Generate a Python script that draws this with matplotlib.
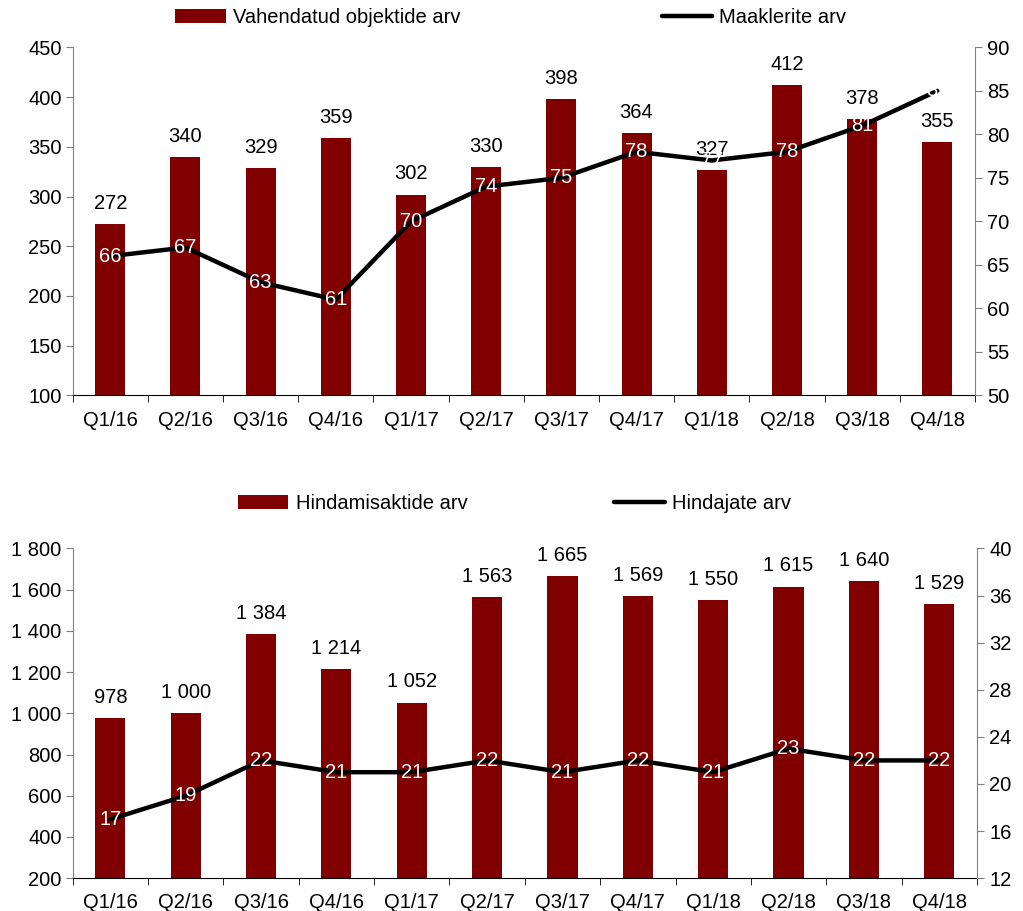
import numpy as np
import matplotlib.pyplot as plt

plt.rcParams['font.family'] = ['Liberation Sans', 'DejaVu Sans']
plt.rcParams['font.size'] = 14.5

quarters = ['Q1/16', 'Q2/16', 'Q3/16', 'Q4/16', 'Q1/17', 'Q2/17',
            'Q3/17', 'Q4/17', 'Q1/18', 'Q2/18', 'Q3/18', 'Q4/18']

# top panel
deals = [272, 340, 329, 359, 302, 330, 398, 364, 327, 412, 378, 355]
brokers = [66, 67, 63, 61, 70, 74, 75, 78, 77, 78, 81, 85]

# bottom panel
appraisals = [978, 1000, 1384, 1214, 1052, 1563, 1665, 1569, 1550, 1615, 1640, 1529]
appraisers = [17, 19, 22, 21, 21, 22, 21, 22, 21, 23, 22, 22]

BAR = '#800000'
GREY = '#808080'


def fmt(v):
    return '{:,}'.format(int(v)).replace(',', ' ')


def panel(ax, bars, line, ylim, yticks, ylim2, yticks2, bar_name, line_name,
          leg_x, leg_y, colsp):
    x = np.arange(len(quarters))
    b = ax.bar(x, bars, width=0.4, color=BAR, zorder=2)
    ax.set_xlim(-0.5, len(quarters) - 0.5)
    ax.set_ylim(*ylim)
    ax.set_yticks(yticks)
    ax.set_yticklabels([fmt(t) for t in yticks])
    ax.set_xticks(x)
    ax.set_xticklabels(quarters)
    ax.set_xticks(np.arange(-0.5, len(quarters)), minor=True)
    ax.tick_params(axis='x', which='major', length=0, pad=11)
    ax.tick_params(axis='x', which='minor', length=5, color='black')
    ax.tick_params(axis='y', length=5, color=GREY, pad=3)
    ax.spines['top'].set_visible(False)
    ax.spines['right'].set_visible(False)
    ax.spines['left'].set_color(GREY)
    ax.spines['bottom'].set_color('black')
    for xi, v in zip(x, bars):
        ax.annotate(fmt(v), (xi, v), xytext=(0, 8), textcoords='offset points',
                    ha='center', va='bottom')

    ax2 = ax.twinx()
    l, = ax2.plot(x, line, color='black', lw=3.2, solid_capstyle='round', zorder=3)
    ax2.set_ylim(*ylim2)
    ax2.set_yticks(yticks2)
    ax2.tick_params(axis='y', length=5, color=GREY, pad=4)
    for s in ['top', 'left', 'bottom']:
        ax2.spines[s].set_visible(False)
    ax2.spines['right'].set_color(GREY)
    for xi, v in zip(x, line):
        ax2.text(xi, v, str(v), color='white', ha='center', va='center')

    ax.legend([b, l], [bar_name, line_name], loc='center left',
              bbox_to_anchor=(leg_x, leg_y), ncol=2, frameon=False,
              borderpad=0, borderaxespad=0,
              columnspacing=colsp, handlelength=2.5, handletextpad=0.35)


fig = plt.figure(figsize=(10.23, 9.11), dpi=100)
ax_top = fig.add_axes([0.071, 0.566, 0.882, 0.382])
ax_bot = fig.add_axes([0.071, 0.036, 0.884, 0.362])

panel(ax_top, deals, brokers, (100, 450), range(100, 451, 50), (50, 90),
      range(50, 91, 5), 'Vahendatud objektide arv', 'Maaklerite arv',
      0.114, 1.086, 10.0)
panel(ax_bot, appraisals, appraisers, (200, 1800), range(200, 1801, 200), (12, 40),
      range(12, 41, 4), 'Hindamisaktide arv', 'Hindajate arv',
      0.183, 1.136, 7.3)

fig.savefig('out.png', dpi=100)
